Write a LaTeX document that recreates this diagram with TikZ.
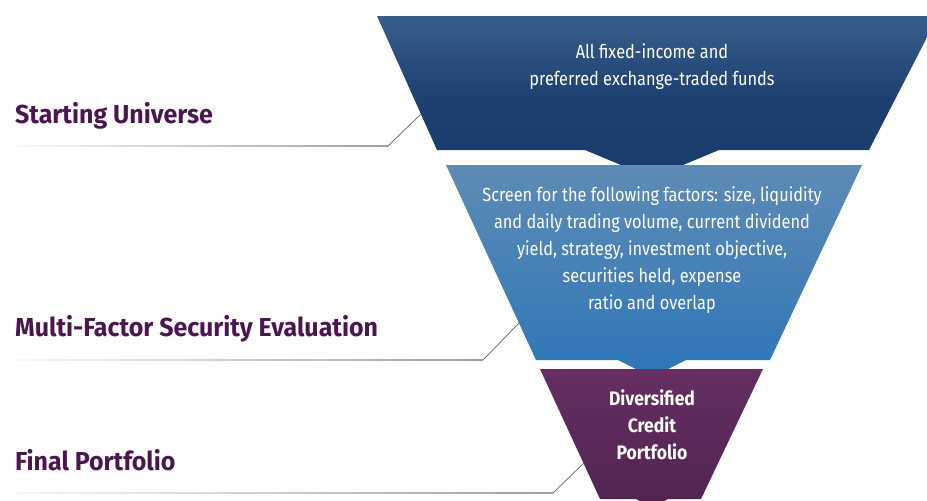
\documentclass[tikz,border=0pt]{standalone}
\usepackage{fontspec}
\setmainfont{Fira Sans}
\newfontfamily\labelfont[FakeStretch=0.96]{Fira Sans}
\newfontfamily\boxfont[FakeStretch=0.86]{Fira Sans}
\newfontfamily\boldboxfont[FakeStretch=0.9]{Fira Sans}
\usetikzlibrary{calc}

\definecolor{navytop}{RGB}{56,95,140}
\definecolor{navybot}{RGB}{24,59,108}
\definecolor{bluetop}{RGB}{94,139,181}
\definecolor{bluebot}{RGB}{46,118,184}
\definecolor{plumtop}{RGB}{102,46,98}
\definecolor{plumbot}{RGB}{80,36,80}
\definecolor{labelplum}{RGB}{75,22,80}

\tikzset{
  stage/.style={anchor=base west,inner sep=0pt,text=labelplum,
    font=\labelfont\bfseries\fontsize{26}{30}\selectfont},
  boxtext/.style={text=white,align=center,inner sep=0pt,
    font=\boxfont\fontsize{19}{27}\selectfont},
  leader/.style={gray!75!black,line width=0.7pt},
}

\begin{document}
\begin{tikzpicture}[x=1pt,y=-1pt]
\useasboundingbox (0,0) rectangle (927,501);
\clip (0,0) rectangle (927,501);
% Funnel
\shade[top color=navytop,bottom color=navybot,middle color=navybot!85!navytop] (377,16) -- (938,16) -- (869,150) -- (719,150) -- (652,178) -- (585,150) -- (437,150) -- cycle;
\shade[top color=bluetop,bottom color=bluebot] (446,165) -- (862,165) -- (770,360) -- (686,360) -- (652,377) -- (618,360) -- (536,360) -- cycle;
\shade[top color=plumtop,bottom color=plumbot] (540,369) -- (763,369) -- (701,499) -- (668,499) -- (652,508) -- (636,499) -- (600,499) -- cycle;
% Text in the funnel
\node[boxtext] (universe) at (652,67) {All fixed-income and\\preferred exchange-traded funds};
\node[boxtext] (screen) at (652,250) {Screen for the following factors: size, liquidity\\and daily trading volume, current dividend\\yield, strategy, investment objective,\\securities held, expense\\ratio and overlap};
\node[boxtext,font=\boldboxfont\bfseries\fontsize{19.5}{27}\selectfont] (credit) at (652,425) {Diversified\\Credit\\Portfolio};
% Stage labels
\node[stage] (start) at (15,123) {Starting Universe};
\node[stage] (multi) at (15,336) {Multi-Factor Security Evaluation};
\node[stage] (final) at (15,470) {Final Portfolio};
% Leaders
\coordinate (s1) at (14,146);
\coordinate (b1) at (388,146);
\coordinate (e1) at (421,114);
\coordinate (s2) at (14,360);
\coordinate (b2) at (483,360);
\coordinate (e2) at (519,323);
\coordinate (s3) at (14,493);
\coordinate (b3) at (553,493);
\coordinate (e3) at (584,463);
\shade[left color=gray!5,right color=gray!75] ($(s1)+(0,-0.6)$) rectangle ($(b1)+(0,0.6)$);
\shade[left color=gray!5,right color=gray!75] ($(s2)+(0,-0.6)$) rectangle ($(b2)+(0,0.6)$);
\shade[left color=gray!5,right color=gray!75] ($(s3)+(0,-0.6)$) rectangle ($(b3)+(0,0.6)$);
\draw[leader] (b1) -- (e1);
\draw[leader] (b2) -- (e2);
\draw[leader] (b3) -- (e3);
\end{tikzpicture}
\end{document}
